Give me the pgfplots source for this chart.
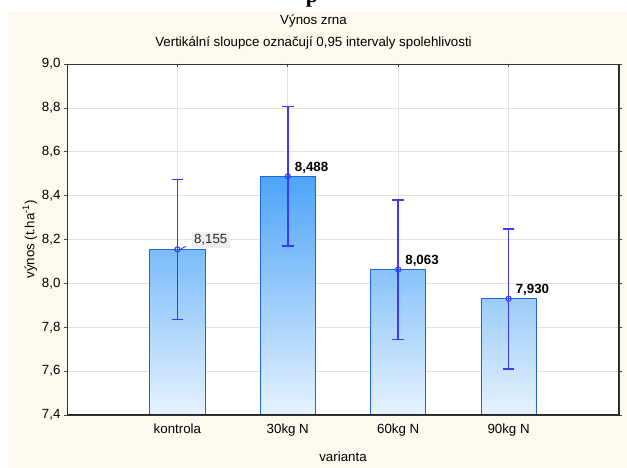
\documentclass[border=0pt]{standalone}
\usepackage{pgfplots}
\pgfplotsset{compat=1.18}
\usepackage{fontspec}
\setmainfont{Liberation Sans}
\newfontfamily\serifb{Liberation Serif}
\definecolor{cream}{HTML}{FDF9EF}
\definecolor{barTop}{HTML}{45A0F8}
\definecolor{barBot}{HTML}{E6F2FD}
\definecolor{barEdge}{HTML}{1F66D6}
\definecolor{ebar}{HTML}{3A3AFF}
\definecolor{gridc}{HTML}{E2E2E2}
\definecolor{labgrey}{HTML}{EEEEEE}
\newcommand\fs{\fontsize{13.3}{15}\selectfont}
\begin{document}
\begin{tikzpicture}[x=1pt,y=1pt]
\useasboundingbox (0,0) rectangle (627,468);
\fill[white] (0,0) rectangle (627,468);
\fill[cream] (8,0) rectangle (627,456);
\node[font=\serifb\bfseries\fontsize{22}{22}\selectfont, anchor=base, inner sep=0pt] at (312,465) {p};
\node[font=\fs] at (313.5,447) {Výnos zrna};
\node[font=\fs] at (313.5,425) {Vertikální sloupce označují 0,95 intervaly spolehlivosti};
\begin{axis}[
  at={(67pt,53pt)}, anchor=south west,
  width=552pt, height=351pt, scale only axis,
  xmin=0, xmax=5, ymin=7.4, ymax=9.0,
  xtick={1,2,3,4}, xticklabels={kontrola,30kg N,60kg N,90kg N},
  ytick={7.4,7.6,7.8,8.0,8.2,8.4,8.6,8.8,9.0},
  yticklabel style={/pgf/number format/.cd, fixed, fixed zerofill, precision=1, use comma},
  /pgf/number format/assume math mode=true,
  grid=major, major grid style={gridc, line width=0.6pt},
  axis line style={black!80, line width=0.9pt},
  tick style={black!70, line width=0.6pt},
  ytick align=outside, xtick align=inside, major tick length=3pt,
  tick label style={font=\fs},
  xticklabel style={yshift=-5pt},
  xlabel={varianta}, ylabel={výnos (t.ha\textsuperscript{-1})},
  label style={font=\fs},
  xlabel style={at={(axis description cs:0.5,-0.1197)}, anchor=center},
  ylabel style={at={(axis description cs:-0.067,0.5)}, anchor=center},
  axis background/.style={fill=white},
  clip=true,
]
% bars (value 8.155, 8.488, 8.063, 7.930), base at 7.4
\addplot[draw=barEdge, line width=0.7pt, top color=barTop!66!barBot, bottom color=barBot]
  coordinates {(0.75,7.4) (0.75,8.155) (1.25,8.155) (1.25,7.4)} -- cycle;
\addplot[draw=barEdge, line width=0.7pt, top color=barTop!95!barBot, bottom color=barBot]
  coordinates {(1.75,7.4) (1.75,8.488) (2.25,8.488) (2.25,7.4)} -- cycle;
\addplot[draw=barEdge, line width=0.7pt, top color=barTop!58!barBot, bottom color=barBot]
  coordinates {(2.75,7.4) (2.75,8.063) (3.25,8.063) (3.25,7.4)} -- cycle;
\addplot[draw=barEdge, line width=0.7pt, top color=barTop!46!barBot, bottom color=barBot]
  coordinates {(3.75,7.4) (3.75,7.930) (4.25,7.930) (4.25,7.4)} -- cycle;
\addplot[only marks, mark=o, mark size=2.6pt, color=ebar, draw=ebar, mark options={line width=1.1pt, draw=ebar},
  error bars/.cd, y dir=both, y explicit,
  error bar style={draw=ebar, color=ebar, line width=1.6pt},
  error mark options={rotate=90, mark size=5.8pt, draw=ebar, color=ebar, line width=1.6pt}]
  coordinates {(1,8.155) +- (0,0.319) (2,8.488) +- (0,0.318) (3,8.063) +- (0,0.318) (4,7.930) +- (0,0.319)};
\addplot[draw=none, mark=none, nodes near coords, point meta=explicit symbolic,
  every node near coord/.append style={anchor=south west, xshift=6pt, yshift=2pt, inner sep=1pt,
    font=\fs\bfseries, text=black}]
  coordinates {(2,8.488) [8,488] (3,8.063) [8,063] (4,7.930) [7,930]};
\addplot[draw=none, mark=none, nodes near coords, point meta=explicit symbolic,
  every node near coord/.append style={anchor=south west, xshift=14pt, yshift=1pt, inner sep=2.5pt,
    fill=labgrey, draw=none, font=\fs, text=black!85}]
  coordinates {(1,8.155) [8,155]};
\draw[ebar, line width=0.9pt] (axis cs:1,8.155) ++(3.5pt,0.5pt) -- ++(5pt,2.5pt);
\draw[black!85, line width=1.4pt] (rel axis cs:1,1) -- (rel axis cs:1,0) -- (rel axis cs:0,0);
\end{axis}
\end{tikzpicture}
\end{document}
